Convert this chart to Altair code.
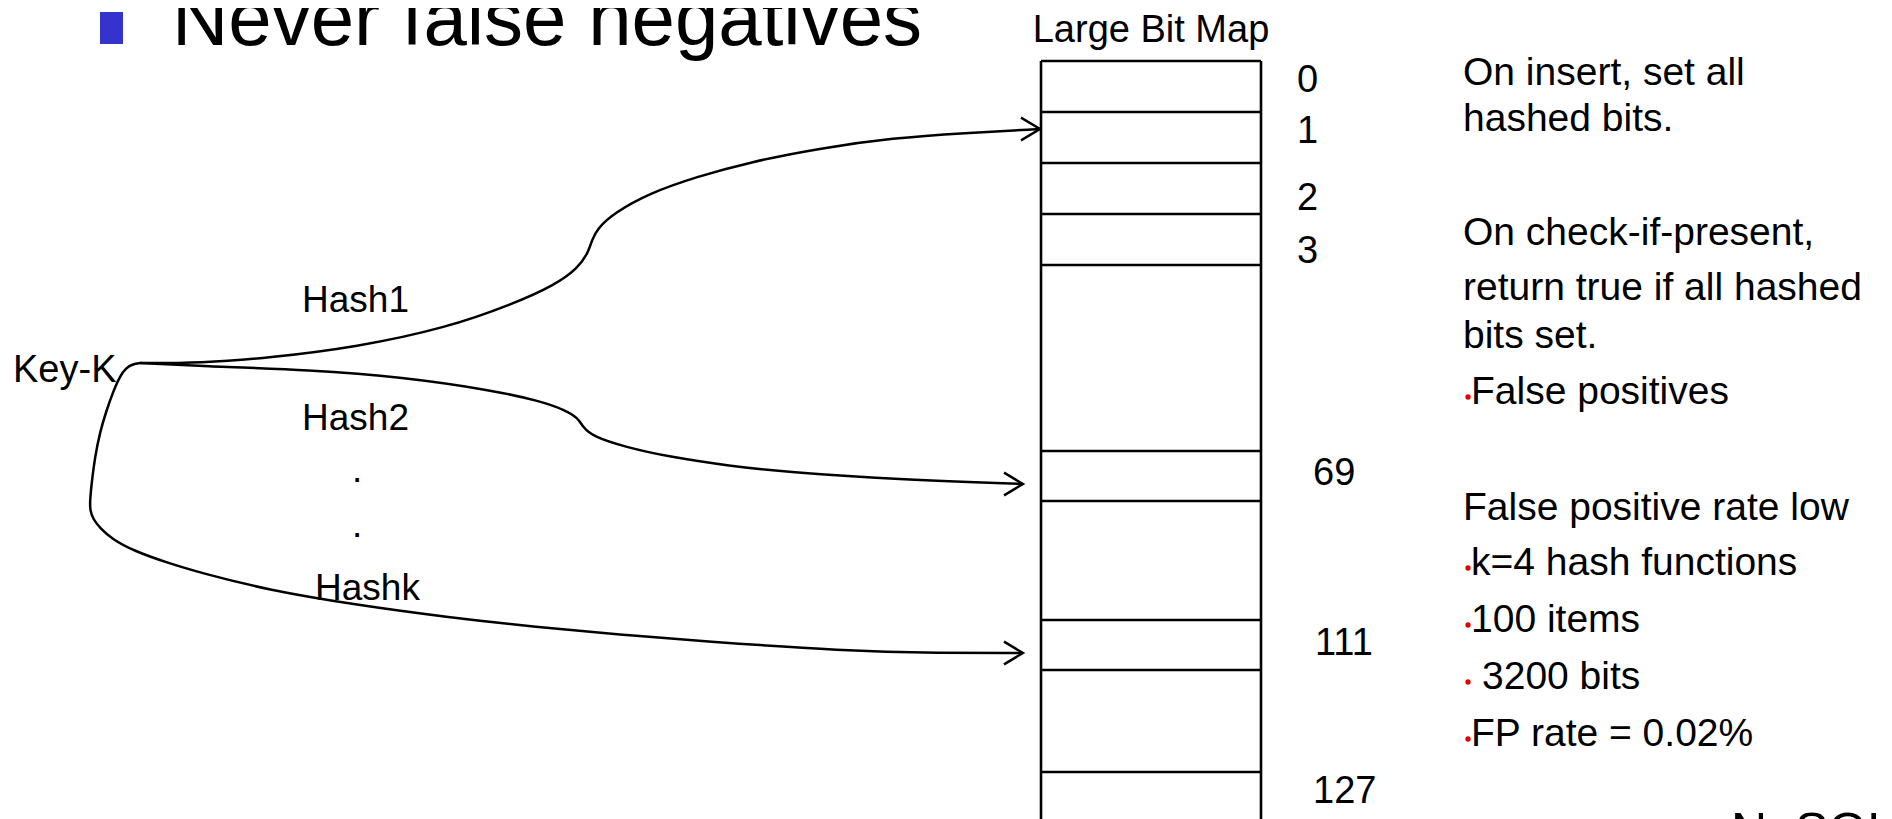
import altair as alt
import pandas as pd

# ---------------- data (page pixels) ----------------
title_text = "Never false negatives"
bitmap_title = "Large Bit Map"

bit_labels = ["0", "1", "2", "3", "69", "111", "127"]
bit_label_x = [1297, 1297, 1297, 1297, 1313, 1315, 1313]
bit_label_y = [92, 143, 210, 263, 485, 655, 803]

row_line_y = [61, 112, 163, 214, 265, 451, 501, 620, 670, 772]
box_x = [1041, 1261]
box_y = [61, 840]

key_label = "Key-K"
hash_labels = ["Hash1", "Hash2", ".", ".", "Hashk"]
hash_label_x = [302, 302, 352, 352, 315]
hash_label_y = [312, 430, 482, 537, 600]

hash1_x = [140, 201, 268, 357, 446, 513, 555, 578, 588, 592, 597, 614, 650, 696, 750, 821, 893, 964, 1040]
hash1_y = [363, 363, 358, 347, 328, 304, 285, 268, 253, 240, 229, 213, 193, 177, 162, 148, 138, 133, 129]

hash2_x = [140, 201, 312, 402, 491, 540, 565, 578, 583, 592, 625, 670, 730, 784, 905, 1023]
hash2_y = [363, 366, 370, 377, 390, 401, 410, 418, 427, 436, 447, 457, 466, 472, 480, 484]

hashk_x = [140, 133, 126, 120, 113, 106, 100, 95, 92, 90, 90, 93, 100, 112, 134, 168, 201, 268, 357, 446, 536, 625, 700, 845, 940, 1023]
hashk_y = [363, 364, 368, 376, 392, 412, 432, 457, 480, 500, 510, 519, 528, 539, 551, 563, 573, 590, 605, 617, 627, 635, 641, 651, 653, 653]

arrow_tip_x = [1040, 1023, 1023]
arrow_tip_y = [129, 484, 653]

notes = ["On insert, set all", "hashed bits.", "On check-if-present,",
         "return true if all hashed", "bits set.", "False positives",
         "False positive rate low", "k=4 hash functions", "100 items",
         "3200 bits", "FP rate = 0.02%"]
note_y = [85, 131, 245, 300, 348, 404, 520, 575, 632, 689, 746]
note_bulleted = [0, 0, 0, 0, 0, 1, 0, 1, 1, 1, 1]
note_x = [1463, 1463, 1463, 1463, 1463, 1471, 1463, 1471, 1471, 1482, 1471]

corner_text = "NoSQL"

# ---------------- scales mapping data to page pixels ----------------
W, H = 1876, 811
xs = alt.Scale(domain=[8, 8 + W], nice=False, zero=False)
ys = alt.Scale(domain=[8, 8 + H], nice=False, zero=False, reverse=True)
FONT = "Liberation Sans"


def X(f="x"):
    return alt.X(f"{f}:Q", scale=xs, axis=None)


def Y(f="y"):
    return alt.Y(f"{f}:Q", scale=ys, axis=None)


# bitmap box lines
hlines = pd.DataFrame({"x": box_x[0], "x2": box_x[1], "y": row_line_y})
vlines = pd.DataFrame({"x": box_x, "y": box_y[0], "y2": box_y[1]})
hrule = alt.Chart(hlines).mark_rule(color="black", strokeWidth=2.6).encode(
    x=X(), x2="x2:Q", y=Y())
vrule = alt.Chart(vlines).mark_rule(color="black", strokeWidth=2.6).encode(
    x=X(), y=Y(), y2="y2:Q")

# curves
rows = []
for name, cx, cy in [("h1", hash1_x, hash1_y), ("h2", hash2_x, hash2_y), ("hk", hashk_x, hashk_y)]:
    for i, (a, b) in enumerate(zip(cx, cy)):
        rows.append({"curve": name, "i": i, "x": a, "y": b})
curves = alt.Chart(pd.DataFrame(rows)).mark_line(
    color="black", strokeWidth=2.5, interpolate="basis").encode(
    x=X(), y=Y(), detail="curve:N", order="i:Q")

arrows = alt.Chart(pd.DataFrame({"x": arrow_tip_x, "y": arrow_tip_y})).mark_point(
    shape="M -1 -0.6 L 0 0 L -1 0.6", size=1444, filled=False,
    color="black", strokeWidth=2.4, opacity=1).encode(x=X(), y=Y())

# title bullet
bullet = alt.Chart(pd.DataFrame({"x": [100], "x2": [123], "y": [12], "y2": [44]})).mark_rect(
    color="#3434CC").encode(x=X(), x2="x2:Q", y=Y(), y2="y2:Q")

# left aligned texts
txt_rows = [{"t": title_text, "x": 172, "y": 45, "s": 78}]
for t, a, b in zip(bit_labels, bit_label_x, bit_label_y):
    txt_rows.append({"t": t, "x": a, "y": b, "s": 38})
txt_rows.append({"t": key_label, "x": 13, "y": 382, "s": 38})
for t, a, b in zip(hash_labels, hash_label_x, hash_label_y):
    txt_rows.append({"t": t, "x": a, "y": b, "s": 37})
for t, a, b in zip(notes, note_x, note_y):
    txt_rows.append({"t": t, "x": a, "y": b, "s": 39})
txt_rows.append({"t": corner_text, "x": 1731, "y": 848, "s": 50})

texts = alt.Chart(pd.DataFrame(txt_rows)).mark_text(
    align="left", baseline="alphabetic", font=FONT, color="black").encode(
    x=X(), y=Y(), text="t:N", size=alt.Size("s:Q", scale=None, legend=None))

center_text = alt.Chart(pd.DataFrame({"t": [bitmap_title], "x": [1151], "y": [42]})).mark_text(
    align="center", baseline="alphabetic", font=FONT, fontSize=38, color="black").encode(
    x=X(), y=Y(), text="t:N")

# red bullet dots
dot_df = pd.DataFrame({"x": [1468] * sum(note_bulleted),
                       "y": [y - 7 for y, b in zip(note_y, note_bulleted) if b]})
dots = alt.Chart(dot_df).mark_circle(size=28, color="#E80000", opacity=1).encode(x=X(), y=Y())

chart = alt.layer(hrule, vrule, curves, arrows, bullet, texts, center_text, dots).properties(
    width=W, height=H, padding=0, autosize=alt.AutoSizeParams(type="none"),
    background="white").configure_view(stroke=None)

chart.save("out.html", embed_options={"renderer": "svg", "actions": False})
